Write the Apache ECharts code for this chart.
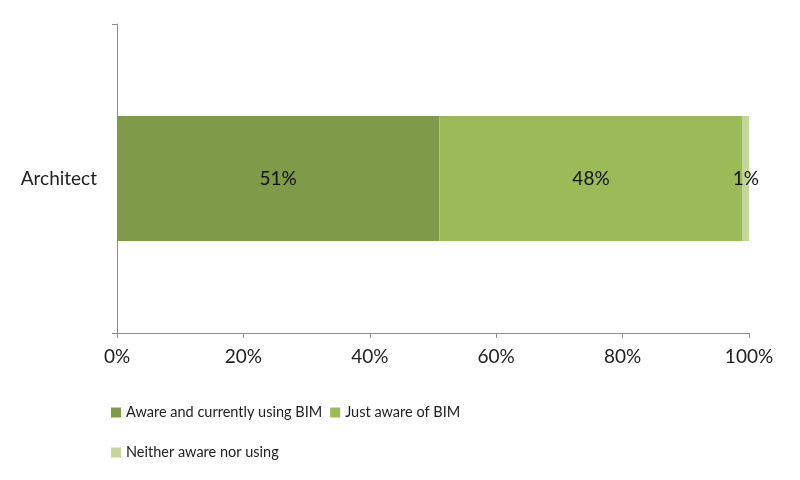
<!DOCTYPE html>
<html><head><meta charset="utf-8">
<script src="https://cdn.jsdelivr.net/npm/echarts@6/dist/echarts.min.js"></script>
<style>html,body{margin:0;padding:0;background:#fff}#c{width:800px;height:480px}</style>
</head><body><div id="c"></div>
<script>
const categories = ['Architect'];
const seriesNames = ['Aware and currently using BIM', 'Just aware of BIM', 'Neither aware nor using'];
const awareUsing = [51];
const justAware = [48];
const neither = [1];
const xTicks = [0, 20, 40, 60, 80, 100];

const colors = ['#7f9a48', '#9bbb59', '#c3d69b'];
const FONT = 'Lato, "Open Sans", sans-serif';
const values = [awareUsing, justAware, neither];

const chart = echarts.init(document.getElementById('c'));
const legendText = { color: '#222', fontSize: 14.5, fontFamily: FONT };
chart.setOption({
  animation: false,
  backgroundColor: '#fff',
  grid: { left: 117, right: 51, top: 24, bottom: 147, containLabel: false },
  xAxis: {
    type: 'value', min: xTicks[0], max: xTicks[xTicks.length - 1], interval: 20,
    axisLine: { show: true, lineStyle: { color: '#8c8c8c', width: 1 } },
    axisTick: { show: true, length: 5, lineStyle: { color: '#8c8c8c' } },
    splitLine: { show: false },
    axisLabel: { formatter: '{value}%', color: '#222', fontSize: 19, fontFamily: FONT, margin: 14 }
  },
  yAxis: {
    type: 'category', data: categories,
    axisLine: { show: true, lineStyle: { color: '#8c8c8c', width: 1 } },
    axisTick: { show: true, length: 5, lineStyle: { color: '#8c8c8c' } },
    axisLabel: { color: '#222', fontSize: 19, fontFamily: FONT, margin: 20 }
  },
  legend: [{
    left: 106, top: 400, itemWidth: 10, itemHeight: 10, itemGap: 8, icon: 'rect',
    data: seriesNames.slice(0, 2), textStyle: legendText
  }, {
    left: 106, top: 440, itemWidth: 10, itemHeight: 10, itemGap: 8, icon: 'rect',
    data: seriesNames.slice(2), textStyle: legendText
  }],
  series: seriesNames.map((name, i) => ({
    name, type: 'bar', stack: 'total', barWidth: 125,
    itemStyle: { color: colors[i] },
    label: { show: true, position: 'inside', formatter: '{c}%', color: '#111', fontSize: 19, fontFamily: FONT },
    data: values[i]
  }))
});
</script></body></html>
